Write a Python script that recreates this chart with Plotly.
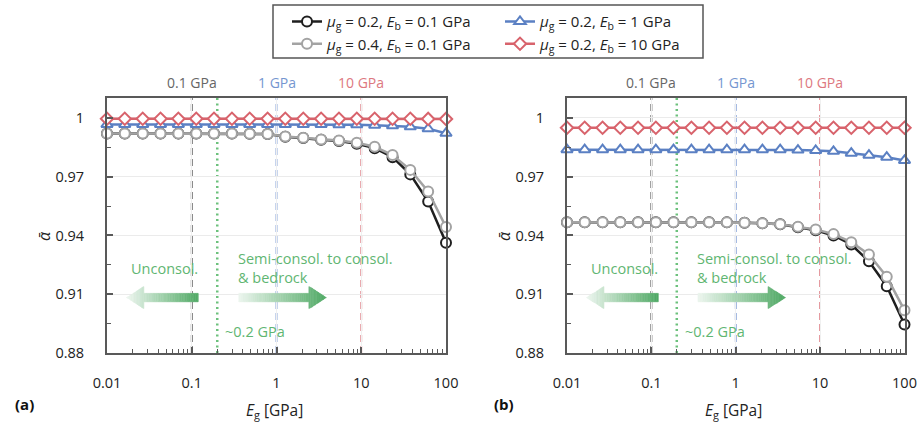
import math
import plotly.graph_objects as go

# ---------------- data ----------------
E_g = [0.01, 0.0162, 0.0264, 0.0428, 0.0695, 0.113, 0.183, 0.298, 0.483, 0.785,
       1.27, 2.07, 3.36, 5.46, 8.86, 14.4, 23.4, 37.9, 61.6, 100]

# panel (a)
a_mu02_Eb01 = [0.9921, 0.9921, 0.9921, 0.9921, 0.9921, 0.9921, 0.9921, 0.9921, 0.9920, 0.9918,
               0.9904, 0.9898, 0.9889, 0.9882, 0.9868, 0.9846, 0.9800, 0.9712, 0.9573, 0.9363]
a_mu04_Eb01 = [0.9921, 0.9921, 0.9921, 0.9921, 0.9921, 0.9921, 0.9921, 0.9921, 0.9920, 0.9918,
               0.9905, 0.9899, 0.9890, 0.9885, 0.9873, 0.9853, 0.9811, 0.9735, 0.9625, 0.9443]
a_mu02_Eb1 = [0.9967, 0.9967, 0.9967, 0.9967, 0.9967, 0.9967, 0.9967, 0.9967, 0.9967, 0.9967,
              0.9967, 0.9967, 0.9967, 0.9966, 0.9966, 0.9963, 0.9960, 0.9955, 0.9945, 0.9922]
a_mu02_Eb10 = [0.9996, 0.9996, 0.9996, 0.9996, 0.9996, 0.9996, 0.9996, 0.9996, 0.9996, 0.9996,
               0.9996, 0.9996, 0.9996, 0.9996, 0.9996, 0.9996, 0.9996, 0.9996, 0.9995, 0.9995]

# panel (b)
b_mu02_Eb01 = [0.9468, 0.9468, 0.9468, 0.9468, 0.9468, 0.9468, 0.9468, 0.9468, 0.9468, 0.9467,
               0.9465, 0.9462, 0.9457, 0.9442, 0.9427, 0.9400, 0.9354, 0.9268, 0.9141, 0.8945]
b_mu04_Eb01 = [0.9468, 0.9468, 0.9468, 0.9468, 0.9468, 0.9468, 0.9468, 0.9468, 0.9468, 0.9467,
               0.9465, 0.9462, 0.9458, 0.9444, 0.9431, 0.9407, 0.9366, 0.9303, 0.9189, 0.9018]
b_mu02_Eb1 = [0.9838, 0.9838, 0.9838, 0.9838, 0.9838, 0.9838, 0.9838, 0.9838, 0.9838, 0.9838,
              0.9838, 0.9838, 0.9838, 0.9836, 0.9834, 0.9830, 0.9820, 0.9810, 0.9800, 0.9783]
b_mu02_Eb10 = [0.9950] * 20

x_ticks = [0.01, 0.1, 1, 10, 100]
x_tick_text = ["0.01", "0.1", "1", "10", "100"]
y_ticks = [0.88, 0.91, 0.94, 0.97, 1.0]
y_tick_text = ["0.88", "0.91", "0.94", "0.97", "1"]
y_minor = [0.895, 0.925, 0.955, 0.985]
x_minor = [m * 10.0 ** e for e in range(-2, 2) for m in range(2, 10)]

ref_lines = [0.1, 1, 10]
ref_labels = ["0.1 GPa", "1 GPa", "10 GPa"]

names = [
    "<i>μ</i><sub>g</sub> = 0.2, <i>E</i><sub>b</sub> = 0.1 GPa",
    "<i>μ</i><sub>g</sub> = 0.4, <i>E</i><sub>b</sub> = 0.1 GPa",
    "<i>μ</i><sub>g</sub> = 0.2, <i>E</i><sub>b</sub> = 1 GPa",
    "<i>μ</i><sub>g</sub> = 0.2, <i>E</i><sub>b</sub> = 10 GPa",
]

# ---------------- style ----------------
W, H = 922, 425
FONT = "Open Sans"
FS = 14.5
BLACK, GREY, BLUE, RED = "#1f1f1f", "#a3a3a3", "#5b80c3", "#d8636c"
REF_LINE_COL = ["#4d4d4d", "#7596d3", "#de7d85"]
REF_TEXT_COL = ["#666666", "#7596d0", "#dd7880"]
GREEN_TXT, GREEN_DOT, GREEN_ARR = "#5fb672", "#6cc17c", "#4fa964"
FRAME = "#595959"

PANELS = [(107, 446), (567, 904.5)]
TOP, BOT = 98, 353
YR = (0.88, 1.0102)

def px2paper_x(px):
    return px / W

def py2paper_y(py):
    return 1 - py / H

def data2px(panel, xv):
    l, r = PANELS[panel]
    return l + (math.log10(xv) + 2) / 4 * (r - l)

def data2py(yv):
    return BOT - (yv - YR[0]) / (YR[1] - YR[0]) * (BOT - TOP)

fig = go.Figure()

styles = [
    (BLACK, "circle", 10, "legend"),
    (GREY, "circle", 10, "legend2"),
    (BLUE, "triangle-up", 10, "legend"),
    (RED, "diamond", 9.5, "legend2"),
]
panel_data = [
    [a_mu02_Eb01, a_mu04_Eb01, a_mu02_Eb1, a_mu02_Eb10],
    [b_mu02_Eb01, b_mu04_Eb01, b_mu02_Eb1, b_mu02_Eb10],
]

for p, datasets in enumerate(panel_data):
    xa = "x" if p == 0 else "x2"
    ya = "y" if p == 0 else "y2"
    for i, ys in enumerate(datasets):
        col, sym, size, leg = styles[i]
        fig.add_trace(go.Scatter(
            x=E_g, y=ys, mode="lines+markers", name=names[i],
            xaxis=xa, yaxis=ya, legend=leg, showlegend=(p == 0),
            line=dict(color=col, width=2.5),
            marker=dict(symbol=sym, size=size, color="white",
                        line=dict(color=col, width=2)),
            cliponaxis=False,
        ))

axis_common = dict(showline=True, mirror=True, linecolor=FRAME, linewidth=2,
                   ticks="inside", tickcolor=FRAME, tickwidth=1.5, ticklen=6,
                   zeroline=False, automargin=False,
                   tickfont=dict(family=FONT, size=FS, color="#222"))

for p in range(2):
    l, r = PANELS[p]
    xkey = "xaxis" if p == 0 else "xaxis2"
    ykey = "yaxis" if p == 0 else "yaxis2"
    fig.update_layout(**{
        xkey: dict(type="log", range=[-2, 2], domain=[l / W, r / W],
                   anchor="y" if p == 0 else "y2",
                   tickmode="array", tickvals=x_ticks, ticktext=x_tick_text,
                   showgrid=True, gridcolor="#f0f0f0", gridwidth=1,
                   ticklabelstandoff=16,
                   minor=dict(tickmode="array", tickvals=x_minor, ticks="inside",
                              ticklen=4, tickcolor=FRAME, tickwidth=1, showgrid=False),
                   **axis_common),
        ykey: dict(range=list(YR), domain=[py2paper_y(BOT), py2paper_y(TOP)],
                   anchor="x" if p == 0 else "x2",
                   tickmode="array", tickvals=y_ticks, ticktext=y_tick_text,
                   showgrid=True, gridcolor="#ebebeb", gridwidth=1,
                   ticklabelstandoff=18,
                   minor=dict(tickmode="array", tickvals=y_minor, ticks="inside",
                              ticklen=4, tickcolor=FRAME, tickwidth=1, showgrid=False),
                   **axis_common),
    })

shapes = []
annotations = []

def grad_color(t):
    r0, g0, b0 = 255, 255, 255
    r1, g1, b1 = int(GREEN_ARR[1:3], 16), int(GREEN_ARR[3:5], 16), int(GREEN_ARR[5:7], 16)
    return "rgb(%d,%d,%d)" % (r0 + (r1 - r0) * t, g0 + (g1 - g0) * t, b0 + (b1 - b0) * t)

def add_arrow(panel, x_tail, x_tip, y_c, solid_at_tip):
    xt, xp = data2px(panel, x_tail), data2px(panel, x_tip)
    yc = data2py(y_c)
    hb, hh, hl = 4.2, 11.0, 17.0
    direction = 1 if xp > xt else -1
    total = abs(xp - xt)
    base = xp - direction * hl
    n_body, n_head = 36, 12
    bounds = [xt + (base - xt) * k / n_body for k in range(n_body + 1)]
    bounds += [base + (xp - base) * k / n_head for k in range(1, n_head + 1)]

    def half(x, in_head):
        if not in_head:
            return hb
        return hh * abs(xp - x) / hl

    for k in range(len(bounds) - 1):
        a, b = bounds[k], bounds[k + 1]
        in_head = k >= n_body
        mid = (a + b) / 2
        frac = abs(mid - xt) / total
        t = frac if solid_at_tip else 1 - frac
        t = 0.1 + 0.9 * max(0.0, min(1.0, t))
        col = grad_color(t)
        ha, hb2 = half(a, in_head), half(b, in_head)
        pts = [(a, yc - ha), (b, yc - hb2), (b, yc + hb2), (a, yc + ha)]
        path = "M " + " L ".join("%.3f,%.4f" % (px2paper_x(x), py2paper_y(y)) for x, y in pts) + " Z"
        shapes.append(dict(type="path", xref="paper", yref="paper", path=path,
                           fillcolor=col, line=dict(color=col, width=0.6), layer="above"))

def ann(**kw):
    base = dict(showarrow=False, xanchor="center", yanchor="middle")
    base.update(kw)
    annotations.append(base)

for p in range(2):
    xa = "x" if p == 0 else "x2"
    ya = "y" if p == 0 else "y2"
    l, r = PANELS[p]
    for xv, lab, lc, tc in zip(ref_lines, ref_labels, REF_LINE_COL, REF_TEXT_COL):
        shapes.append(dict(type="line", xref=xa, yref="paper", x0=xv, x1=xv,
                           y0=py2paper_y(BOT), y1=py2paper_y(TOP),
                           line=dict(color=lc, width=1.8, dash="7px,4px"), layer="below"))
        ann(text=lab, xref=xa, yref="paper", x=math.log10(xv), y=py2paper_y(82.7),
            font=dict(family=FONT, size=14, color=tc))
    shapes.append(dict(type="line", xref=xa, yref="paper", x0=0.2, x1=0.2,
                       y0=py2paper_y(BOT), y1=py2paper_y(TOP),
                       line=dict(color=GREEN_DOT, width=2.5, dash="2px,3.5px"), layer="below"))
    ann(text="~0.2 GPa", xref=xa, yref=ya, x=math.log10(0.2), y=0.8911,
        xanchor="left", xshift=6, font=dict(family=FONT, size=FS, color=GREEN_TXT))
    ann(text="Unconsol.", xref=xa, yref=ya, x=math.log10(0.12), y=0.9231,
        xanchor="right", xshift=2, font=dict(family=FONT, size=FS, color=GREEN_TXT))
    ann(text="Semi-consol. to consol.<br>& bedrock", xref=xa, yref=ya,
        x=math.log10(0.36), y=0.9235, xanchor="left", align="left", xshift=-3,
        font=dict(family=FONT, size=FS, color=GREEN_TXT))
    add_arrow(p, 0.12, 0.0171, 0.9083, solid_at_tip=False)
    add_arrow(p, 0.36, 3.87, 0.9083, solid_at_tip=True)
    ann(text="<i>E</i><sub>g</sub> [GPa]", xref="paper", yref="paper",
        x=px2paper_x((l + r) / 2 - 2), y=py2paper_y(410),
        font=dict(family=FONT, size=15.5, color="#222"))
    ann(text="<i>ᾱ</i>", xref="paper", yref="paper",
        x=px2paper_x(l - 63), y=py2paper_y(236), textangle=-90,
        font=dict(family=FONT, size=16, color="#222"))

ann(text="<b>(a)</b>", xref="paper", yref="paper", x=px2paper_x(24), y=py2paper_y(404),
    font=dict(family=FONT, size=15, color="#111"))
ann(text="<b>(b)</b>", xref="paper", yref="paper", x=px2paper_x(504), y=py2paper_y(404),
    font=dict(family=FONT, size=15, color="#111"))

shapes.append(dict(type="rect", xref="paper", yref="paper",
                   x0=px2paper_x(273), x1=px2paper_x(703),
                   y0=py2paper_y(58), y1=py2paper_y(5),
                   line=dict(color="#555555", width=1.5), fillcolor="rgba(0,0,0,0)",
                   layer="above"))

legend_common = dict(orientation="h", xanchor="left", yanchor="middle",
                     bgcolor="rgba(0,0,0,0)", borderwidth=0, entrywidth=168,
                     font=dict(family=FONT, size=15, color="#222"),
                     tracegroupgap=0)

fig.update_layout(
    width=W, height=H,
    margin=dict(l=0, r=0, t=0, b=0, autoexpand=False),
    paper_bgcolor="white", plot_bgcolor="rgba(0,0,0,0)",
    font=dict(family=FONT, size=FS, color="#222"),
    shapes=shapes, annotations=annotations,
    legend=dict(x=px2paper_x(287), y=py2paper_y(21.7), **legend_common),
    legend2=dict(x=px2paper_x(287), y=py2paper_y(44), **legend_common),
)

fig.write_html("out.html", config={"displayModeBar": False},
               post_script="document.body.style.margin='0px';")
